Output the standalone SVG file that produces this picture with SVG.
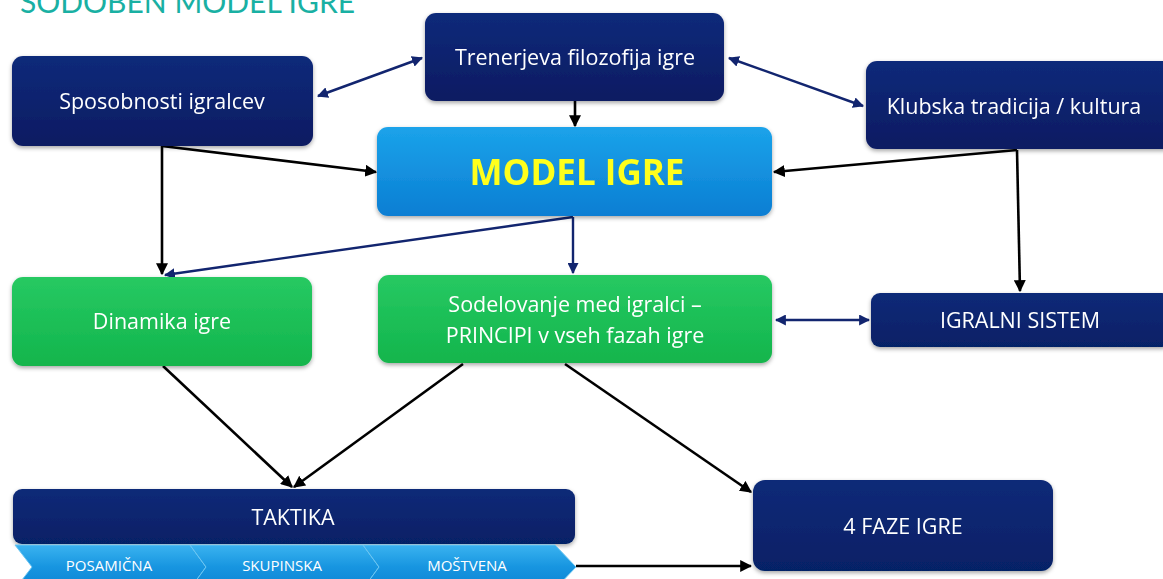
<svg xmlns="http://www.w3.org/2000/svg" width="1163" height="579" viewBox="0 0 1163 579">
<defs>
<linearGradient id="gNavy" x1="0" y1="0" x2="0" y2="1">
<stop offset="0" stop-color="#112a7a"/><stop offset="1" stop-color="#0a1b62"/>
</linearGradient>
<linearGradient id="gNavy2" x1="0" y1="0" x2="0" y2="1">
<stop offset="0" stop-color="#0e2a78"/><stop offset="1" stop-color="#062066"/>
</linearGradient>
<linearGradient id="gGreen" x1="0" y1="0" x2="0" y2="1">
<stop offset="0" stop-color="#27c962"/><stop offset="1" stop-color="#12b54c"/>
</linearGradient>
<linearGradient id="gBlue" x1="0" y1="0" x2="0" y2="1">
<stop offset="0" stop-color="#1ba3ea"/><stop offset="1" stop-color="#0b7ed3"/>
</linearGradient>
<linearGradient id="gChev" x1="0" y1="0" x2="0" y2="1">
<stop offset="0" stop-color="#3ab3f0"/><stop offset="0.5" stop-color="#1795e0"/><stop offset="1" stop-color="#0c84d4"/>
</linearGradient>
<filter id="sh" x="-10%" y="-10%" width="120%" height="130%">
<feDropShadow dx="0" dy="2" stdDeviation="2" flood-color="#000" flood-opacity="0.35"/>
</filter>
<marker id="aB" viewBox="0 0 10 10" refX="9" refY="5" markerWidth="12" markerHeight="12" markerUnits="userSpaceOnUse" orient="auto-start-reverse">
<path d="M0 0 L10 5 L0 10 Z" fill="#000"/>
</marker>
<marker id="aN" viewBox="0 0 10 10" refX="9" refY="5" markerWidth="11" markerHeight="11" markerUnits="userSpaceOnUse" orient="auto-start-reverse">
<path d="M0 0 L10 5 L0 10 Z" fill="#12256f"/>
</marker>
<style>
.t{font-family:"Open Sans","DejaVu Sans",sans-serif;fill:#fff;text-anchor:middle}
.m{font-size:21.5px}
.s{font-size:15px}
.blk{stroke:#000;stroke-width:2.6;fill:none;marker-end:url(#aB)}
.nav{stroke:#12256f;stroke-width:2.4;fill:none;marker-end:url(#aN)}
.dbl{marker-start:url(#aN)}
.box{filter:url(#sh)}
</style>
</defs>
<rect width="1163" height="579" fill="#fff"/>
<text x="20" y="13" font-family="Lato,'Open Sans',sans-serif" font-size="30" fill="#19b0a3">SODOBEN MODEL IGRE</text>

<g id="connectors">
<line class="nav dbl" x1="318" y1="96" x2="422" y2="58"/>
<line class="nav dbl" x1="729" y1="58" x2="863" y2="106"/>
<line class="blk" x1="575" y1="101" x2="575" y2="126"/>
<polyline class="blk" points="162,145 162,274"/>
<line class="blk" x1="162" y1="146" x2="376" y2="172"/>
<line class="blk" x1="1017" y1="150" x2="774" y2="172"/>
<polyline class="blk" points="1017,150 1020,291"/>
<line class="nav" x1="573" y1="217" x2="165" y2="275"/>
<line class="nav" x1="573" y1="217" x2="573" y2="273"/>
<line class="nav dbl" x1="776" y1="320" x2="869" y2="320"/>
<line class="blk" x1="163" y1="366" x2="292" y2="487"/>
<line class="blk" x1="463" y1="364" x2="294" y2="487"/>
<line class="blk" x1="565" y1="364" x2="751" y2="492"/>
<line class="blk" x1="576" y1="566" x2="751" y2="566"/>
</g>

<g id="sposobnosti" class="box">
<rect x="12" y="56" width="301" height="90" rx="11" fill="url(#gNavy)"/>
<text class="t m" x="162" y="109">Sposobnosti igralcev</text>
</g>
<g id="trener" class="box">
<rect x="425" y="13" width="299" height="88" rx="11" fill="url(#gNavy)"/>
<text class="t m" x="575" y="65">Trenerjeva filozofija igre</text>
</g>
<g id="klub" class="box">
<rect x="866" y="61" width="308" height="88" rx="11" fill="url(#gNavy)"/>
<text class="t m" x="1014" y="114">Klubska tradicija / kultura</text>
</g>
<g id="model" class="box">
<rect x="377" y="127" width="395" height="89" rx="11" fill="url(#gBlue)"/>
<text x="577" y="185" font-family="'Open Sans','DejaVu Sans',sans-serif" font-weight="bold" font-size="35" fill="#ffff1a" text-anchor="middle">MODEL IGRE</text>
</g>
<g id="dinamika" class="box">
<rect x="12" y="277" width="300" height="89" rx="11" fill="url(#gGreen)"/>
<text class="t m" x="162" y="329">Dinamika igre</text>
</g>
<g id="sodelovanje" class="box">
<rect x="378" y="275" width="394" height="88" rx="11" fill="url(#gGreen)"/>
<text class="t m" x="575" y="312">Sodelovanje med igralci –</text>
<text class="t m" x="575" y="343">PRINCIPI v vseh fazah igre</text>
</g>
<g id="sistem" class="box">
<rect x="871" y="293" width="300" height="54" rx="9" fill="url(#gNavy2)"/>
<text class="t m" x="1020" y="328">IGRALNI SISTEM</text>
</g>
<g id="taktika" class="box">
<rect x="13" y="489" width="562" height="55" rx="9" fill="url(#gNavy2)"/>
<text class="t m" x="293" y="525">TAKTIKA</text>
</g>
<g id="chevrons">
<path d="M15 545 L190 545 L206 567 L190 589 L15 589 L32 567 Z" fill="url(#gChev)" stroke="#6cc6f2" stroke-width="1"/>
<path d="M190 545 L363 545 L379 567 L363 589 L190 589 L206 567 Z" fill="url(#gChev)" stroke="#6cc6f2" stroke-width="1"/>
<path d="M363 545 L555 545 L576 567 L555 589 L363 589 L379 567 Z" fill="url(#gChev)" stroke="#6cc6f2" stroke-width="1"/>
<text class="t s" x="109" y="571">POSAMIČNA</text>
<text class="t s" x="282" y="571">SKUPINSKA</text>
<text class="t s" x="467" y="571">MOŠTVENA</text>
</g>
<g id="faze" class="box">
<rect x="753" y="480" width="300" height="91" rx="12" fill="url(#gNavy2)"/>
<text class="t m" x="903" y="534">4 FAZE IGRE</text>
</g>
</svg>
